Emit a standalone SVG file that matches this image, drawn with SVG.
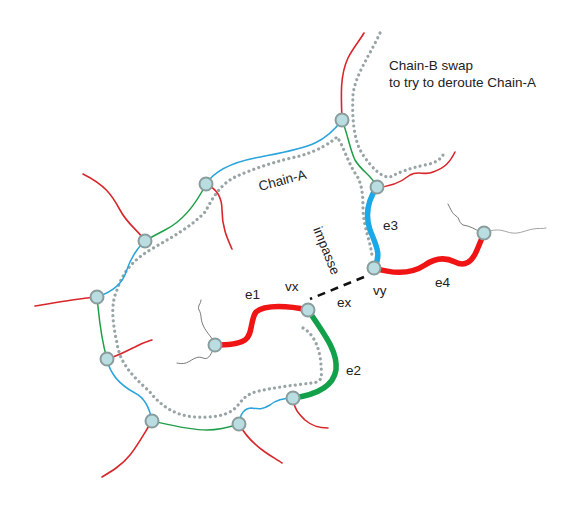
<svg xmlns="http://www.w3.org/2000/svg" width="584" height="516" viewBox="0 0 584 516">
<style>
.bg{fill:#ffffff}
.t{fill:none;stroke-linecap:round;stroke-linejoin:round}
.red{stroke:#d8262a;stroke-width:1.6}
.grn{stroke:#1f9e48;stroke-width:1.5}
.blu{stroke:#2aa4dc;stroke-width:1.5}
.tred{stroke:#f01414;stroke-width:5.5}
.tgrn{stroke:#13a04a;stroke-width:5.5}
.tblu{stroke:#1aa8e6;stroke-width:5.5}
.dot{stroke:#98a4a6;stroke-width:3.2;stroke-dasharray:0.01 5.2}
.sq{stroke:#555;stroke-width:0.8}
.sql{stroke:#999;stroke-width:0.9}
.dash{stroke:#111;stroke-width:2.6;stroke-dasharray:8 6;stroke-linecap:butt}
.n{fill:#b9dde0;stroke:#8a9c9c;stroke-width:2}
text{font-family:"Liberation Sans",Arial,sans-serif;font-size:13.5px;fill:#222}
</style>
<rect class="bg" width="584" height="516"/>
<g id="connectors">
<path class="t dot" d="M303,328 C315,335 320,350 321,365 C322,378 322,382 312,383 C295,385 270,388 255,392 C242,396 240,405 233,410 C225,416 210,418 195,417 C175,416 160,405 150,392 C135,378 120,365 117,343 C113,325 110,305 117,290 C122,275 130,262 150,250 C170,238 190,228 205,212 C212,200 218,186 235,177 C255,168 280,160 300,156 C320,150 330,143 337,137 C343,145 347,160 355,173 C362,182 363,195 363,210 C364,230 372,245 372,258"/>
<path class="t dot" d="M380,33 C370,55 355,75 353,95 C352,115 353,140 363,155 C372,168 382,178 390,177 C400,172 410,168 425,165 C435,163 440,160 443,155"/>
<path class="t red" d="M342,120 C341,95 340,75 348,58 C353,48 360,40 364,33"/>
<path class="t red" d="M377,187 C390,187 400,183 410,175 C418,170 425,176 433,172 C445,168 450,162 455,152"/>
<path class="t red" d="M206,184 C215,188 222,195 222,210 C222,228 228,240 232,249"/>
<path class="t red" d="M145,241 C138,230 128,225 120,210 C112,195 105,185 83,174"/>
<path class="t red" d="M97,297 C80,298 60,302 35,306"/>
<path class="t red" d="M107,359 C120,355 128,350 135,347 C142,343 146,342 152,340"/>
<path class="t red" d="M152,421 C145,432 138,445 130,455 C122,465 112,471 102,477"/>
<path class="t red" d="M239,424 C245,435 255,445 265,452 C272,457 278,460 282,463"/>
<path class="t red" d="M293,398 C294,410 300,415 305,420 C312,426 318,428 328,428"/>
<path class="t blu" d="M206,184 C215,170 235,162 255,158 C280,153 300,150 315,143 C328,137 336,128 342,120"/>
<path class="t grn" d="M206,184 C198,200 185,220 165,230 C155,235 150,238 145,241"/>
<path class="t blu" d="M145,241 C135,250 130,260 126,272 C122,285 112,292 97,297"/>
<path class="t grn" d="M97,297 C99,315 100,335 107,359"/>
<path class="t blu" d="M107,359 C110,375 120,385 135,393 C145,398 150,410 152,421"/>
<path class="t grn" d="M152,421 C170,425 190,430 207,430 C220,430 230,427 239,424"/>
<path class="t blu" d="M239,424 C240,415 244,408 252,408 C258,409 262,410 270,405 C276,400 283,398 293,398"/>
<path class="t grn" d="M342,120 C348,135 350,150 355,160 C362,172 372,175 377,187"/>
<path class="t sq" d="M213,340 C208,333 205,330 203,325 C200,318 202,315 199,310 C197,306 201,304 201,300"/>
<path class="t sq" d="M213,350 C210,356 208,360 203,358 C198,356 195,358 190,361 C185,364 182,364 177,363"/>
<path class="t sq" d="M480,232 C475,229 470,226 463,225 C458,222 460,218 456,216 C452,213 451,210 448,204"/>
<path class="t sql" d="M490,231 C500,228 505,232 512,233 C520,234 526,230 533,229 C539,228 542,229 546,228"/>
<path class="t tgrn" d="M293,398 C315,395 333,388 336,370 C338,352 325,335 308,310"/>
<path class="t tred" d="M308,310 C290,306 265,304 256,312 C250,320 253,335 245,340 C237,345 225,345 215,345"/>
<path class="t tblu" d="M377,187 C368,200 365,215 370,230 C376,245 382,255 374,268"/>
<path class="t tred" d="M374,268 C390,273 410,275 425,265 C435,258 445,257 455,262 C465,267 472,262 477,250 C480,243 482,238 484,233"/>
<path class="t dash" d="M364,277 L310,299"/>
</g>
<g id="n1"><circle class="n" cx="342" cy="120" r="6.5"/></g>
<g id="n2"><circle class="n" cx="377" cy="187" r="6.5"/></g>
<g id="vy"><circle class="n" cx="374" cy="268" r="6.5"/></g>
<g id="n4"><circle class="n" cx="484" cy="233" r="6.5"/></g>
<g id="vx"><circle class="n" cx="308" cy="310" r="6.5"/></g>
<g id="n6"><circle class="n" cx="215" cy="345" r="6.5"/></g>
<g id="n7"><circle class="n" cx="293" cy="398" r="6.5"/></g>
<g id="n8"><circle class="n" cx="239" cy="424" r="6.5"/></g>
<g id="n9"><circle class="n" cx="152" cy="421" r="6.5"/></g>
<g id="n10"><circle class="n" cx="107" cy="359" r="6.5"/></g>
<g id="n11"><circle class="n" cx="97" cy="297" r="6.5"/></g>
<g id="n12"><circle class="n" cx="145" cy="241" r="6.5"/></g>
<g id="n13"><circle class="n" cx="206" cy="184" r="6.5"/></g>
<g id="labels">
<text x="389" y="70">Chain-B swap</text>
<text x="389" y="87">to try  to deroute Chain-A</text>
<text x="260" y="191" transform="rotate(-15 260 191)">Chain-A</text>
<text x="313" y="229" transform="rotate(68 313 229)">impasse</text>
<text x="383" y="230">e3</text>
<text x="435" y="287">e4</text>
<text x="245" y="299">e1</text>
<text x="285" y="291">vx</text>
<text x="337" y="307">ex</text>
<text x="373" y="295">vy</text>
<text x="346" y="375">e2</text>
</g>
</svg>
